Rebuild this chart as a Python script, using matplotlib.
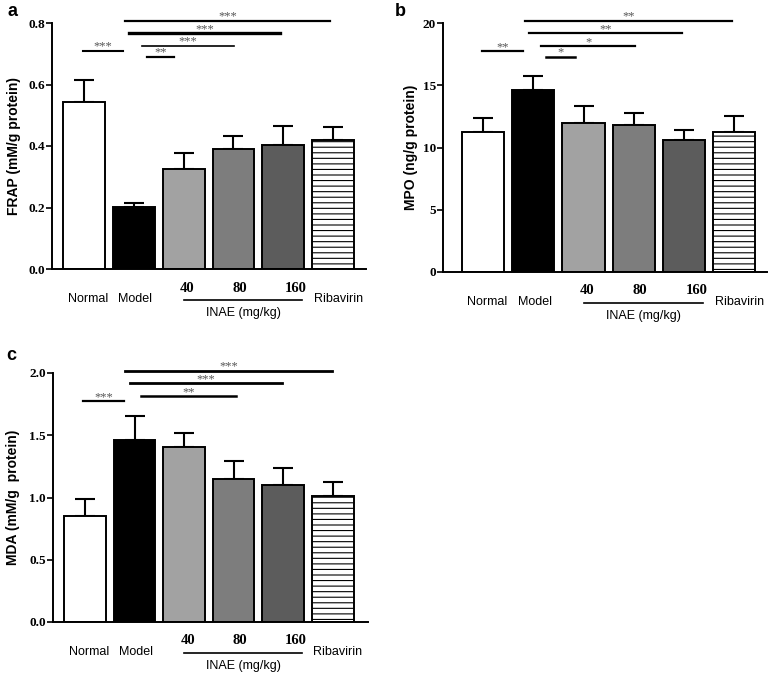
import numpy as np
import matplotlib.pyplot as plt
import matplotlib.transforms as mtransforms

# Groups and values
groups = ['Normal', 'Model', '40', '80', '160', 'Ribavirin']
bar_colors = ['white', 'black', '#a2a2a2', '#7d7d7d', '#5c5c5c', 'white']
bar_hatch = [None, None, None, None, None, '---']

frap_mean = [0.544, 0.203, 0.324, 0.391, 0.404, 0.419]
frap_top = [0.615, 0.214, 0.376, 0.432, 0.465, 0.463]

mpo_mean = [11.26, 14.59, 11.98, 11.77, 10.59, 11.24]
mpo_top = [12.34, 15.74, 13.33, 12.79, 11.40, 12.50]

mda_mean = [0.851, 1.459, 1.406, 1.146, 1.098, 1.009]
mda_top = [0.985, 1.655, 1.518, 1.293, 1.237, 1.124]

# significance brackets: (x start, x end, height, stars, line width)
frap_sig = [(0.82, 4.94, 0.807, '***', 1.6), (0.90, 3.94, 0.767, '***', 2.4),
            (1.16, 3.01, 0.726, '***', 1.2), (1.27, 1.81, 0.690, '**', 1.6),
            (-0.02, 0.78, 0.710, '***', 1.5)]
mpo_sig = [(0.83, 4.95, 20.18, '**', 1.6), (0.91, 3.95, 19.17, '**', 1.6),
           (1.16, 3.02, 18.15, '*', 1.6), (1.26, 1.83, 17.27, '*', 1.8),
           (-0.02, 0.80, 17.75, '**', 1.6)]
mda_sig = [(0.80, 4.99, 2.019, '***', 2.0), (0.90, 3.98, 1.917, '***', 2.0),
           (1.14, 3.05, 1.815, '**', 1.8), (-0.04, 0.78, 1.775, '***', 1.6)]

serif = 'Liberation Serif'
sans = 'Liberation Sans'

fig = plt.figure(figsize=(7.76, 6.78), dpi=100)
plt.rcParams['hatch.linewidth'] = 0.8


def panel(rect, mean, top, sig, ylim, yticks, yfmt, ylabel, xlim, label_x, letter, letter_xy):
    ax = fig.add_axes(rect)
    x = np.arange(len(groups))
    ax.bar(x, mean, width=0.84, color=bar_colors, edgecolor='black',
           linewidth=1.4, hatch=bar_hatch, zorder=2)
    lower = np.zeros(len(mean))
    upper = np.array(top) - np.array(mean)
    ax.errorbar(x, mean, yerr=[lower, upper], fmt='none', ecolor='black',
                elinewidth=1.5, capsize=7.5, capthick=1.5, zorder=1)
    ax.set_xlim(*xlim)
    ax.set_ylim(*ylim)
    ax.set_yticks(yticks)
    ax.set_yticklabels([yfmt.format(v) for v in yticks], fontfamily=serif,
                       fontweight='bold', fontsize=9.5)
    ax.set_xticks([])
    ax.spines['top'].set_visible(False)
    ax.spines['right'].set_visible(False)
    ax.spines['left'].set_linewidth(1.4)
    ax.spines['bottom'].set_linewidth(1.4)
    ax.tick_params(axis='y', direction='out', length=4, width=1.2, pad=1)
    ax.set_ylabel(ylabel, fontfamily=sans, fontweight='bold', fontsize=10)
    ax.yaxis.set_label_coords(label_x, 0.5)

    for x0, x1, h, stars, lw in sig:
        ax.plot([x0, x1], [h, h], color='black', lw=lw, clip_on=False, zorder=3)
        ax.annotate(stars, ((x0 + x1) / 2, h), xytext=(0, 3),
                    textcoords='offset points', ha='center', va='center',
                    fontsize=9, color='#555555', fontfamily=serif,
                    annotation_clip=False)

    # category labels under the axis
    trans = mtransforms.blended_transform_factory(ax.transData, ax.transAxes)

    def below(px):
        return trans + mtransforms.ScaledTranslation(0, -px / 100, fig.dpi_scale_trans)

    ax.text(0.09, 0, 'Normal', transform=below(30), ha='center', va='center',
            fontfamily=sans, fontsize=9)
    ax.text(1.03, 0, 'Model', transform=below(30), ha='center', va='center',
            fontfamily=sans, fontsize=9)
    ax.text(5.1, 0, 'Ribavirin', transform=below(30), ha='center', va='center',
            fontfamily=sans, fontsize=9)
    for xp, lab in zip([2.07, 3.12, 4.25], groups[2:5]):
        ax.text(xp, 0, lab, transform=below(19), ha='center', va='center',
                fontfamily=serif, fontweight='bold', fontsize=10.5)
    ax.plot([2.0, 4.38], [0, 0], transform=below(31), color='black', lw=1.2,
            clip_on=False)
    ax.text(3.19, 0, 'INAE (mg/kg)', transform=below(44), ha='center',
            va='center', fontfamily=sans, fontsize=9)

    fig.text(letter_xy[0] / 776, 1 - letter_xy[1] / 678, letter, ha='center',
             va='center', fontfamily=sans, fontweight='bold', fontsize=13)
    return ax


panel([52 / 776, 1 - 269 / 678, 314 / 776, 246 / 678], frap_mean, frap_top,
      frap_sig, (0, 0.8), [0.0, 0.2, 0.4, 0.6, 0.8], '{:.1f}',
      'FRAP (mM/g protein)', (-0.643, 5.66), -0.099, 'a', (12, 12))

panel([443 / 776, 1 - 272 / 678, 324 / 776, 249 / 678], mpo_mean, mpo_top,
      mpo_sig, (0, 20), [0, 5, 10, 15, 20], '{:d}',
      'MPO (ng/g protein)', (-0.797, 5.65), -0.078, 'b', (400, 12))

panel([53 / 776, 1 - 622 / 678, 315 / 776, 249 / 678], mda_mean, mda_top,
      mda_sig, (0, 2.0), [0.0, 0.5, 1.0, 1.5, 2.0], '{:.1f}',
      'MDA (mM/g  protein)', (-0.645, 5.71), -0.104, 'c', (11, 355))

fig.savefig('out.png', dpi=100)
